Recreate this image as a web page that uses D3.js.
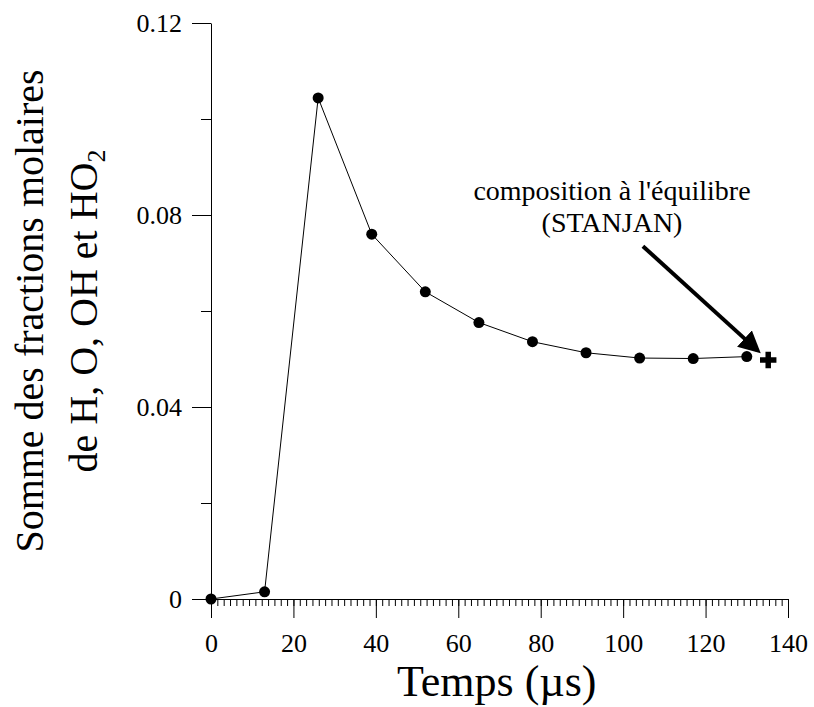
<!DOCTYPE html>
<html>
<head>
<meta charset="utf-8">
<script src="https://cdn.jsdelivr.net/npm/d3@7"></script>
<style>
  body { margin: 0; background: #fff; }
</style>
</head>
<body>
<svg id="chart" width="814" height="707"></svg>
<script>
// time in microseconds and summed molar fractions
var temps = [0, 13, 26, 39, 52, 65, 78, 91, 104, 117, 130]
var fractions = [0, 0.0015, 0.1044, 0.0760, 0.0640, 0.0576, 0.0536, 0.0513, 0.0502, 0.0501, 0.0505]
// equilibrium point (STANJAN)
var equilibre = [135.2, 0.0498]
var xTicks = [0, 20, 40, 60, 80, 100, 120, 140]
var yTicks = [0, 0.04, 0.08, 0.12]
var yMinor = [0.02, 0.06, 0.10]
var noteLines = ["composition à l'équilibre", '(STANJAN)']
var noteAt = [97.3, 0.0831, 0.0765]
var arrowFrom = [104.8, 0.0735]
var arrowTo = [132.6, 0.0518]

var serif = "'Liberation Serif', 'Times New Roman', Times, serif"
var svg = d3.select('#chart')
var margin = {top: 23, right: 26, bottom: 108, left: 211}
var width = 814 - margin.left - margin.right
var height = 707 - margin.top - margin.bottom

var x = d3.scaleLinear().domain([0, 140]).range([0, width])
var y = d3.scaleLinear().domain([0, 0.12]).range([height, 0])

var g = svg.append('g')
  .attr('transform', 'translate(' + margin.left + ',' + margin.top + ')')

// minor x ticks: 13 subdivisions per major step
var xMinor = d3.range(0, 7 * 13 + 1).map((i) => i * 20 / 13)
g.append('g')
  .attr('transform', 'translate(0,' + height + ')')
  .call(d3.axisBottom(x).tickValues(xMinor).tickSize(7).tickFormat(''))
  .call((a) => a.select('.domain').remove())

g.append('g')
  .attr('transform', 'translate(0,' + height + ')')
  .call(d3.axisBottom(x).tickValues(xTicks).tickSize(19).tickSizeOuter(0).tickPadding(16).tickFormat(d3.format('d')))

g.append('g')
  .call(d3.axisLeft(y).tickValues(yMinor).tickSize(10).tickFormat(''))
  .call((a) => a.select('.domain').remove())

g.append('g')
  .call(d3.axisLeft(y).tickValues(yTicks).tickSize(19).tickSizeOuter(0).tickPadding(10)
    .tickFormat((d) => d === 0 ? '0' : d3.format('.2f')(d)))

svg.selectAll('.tick text').attr('font-family', serif).attr('font-size', 26)
svg.selectAll('.domain, .tick line').attr('stroke', '#000').attr('stroke-width', 1)

// data line and dots
var pts = temps.map((t, i) => ({x: t, y: fractions[i]}))
g.append('path').datum(pts)
  .attr('fill', 'none')
  .attr('stroke', '#000')
  .attr('stroke-width', 1)
  .attr('d', d3.line().x((d) => x(d.x)).y((d) => y(d.y)))

g.selectAll('circle').data(pts).enter().append('circle')
  .attr('cx', (d) => x(d.x))
  .attr('cy', (d) => y(d.y))
  .attr('r', 5.5)
  .attr('fill', '#000')

// equilibrium cross
g.append('path')
  .attr('transform', 'translate(' + x(equilibre[0]) + ',' + y(equilibre[1]) + ')')
  .attr('d', d3.symbol(d3.symbolCross, 150))
  .attr('fill', '#000')

// arrow
svg.append('defs').append('marker')
  .attr('id', 'head')
  .attr('viewBox', '0 0 10 10')
  .attr('refX', 8).attr('refY', 5)
  .attr('markerWidth', 5.5).attr('markerHeight', 5.5)
  .attr('markerUnits', 'strokeWidth')
  .attr('orient', 'auto')
  .append('path').attr('d', 'M0,0L10,5L0,10z').attr('fill', '#000')

g.append('line')
  .attr('x1', x(arrowFrom[0])).attr('y1', y(arrowFrom[1]))
  .attr('x2', x(arrowTo[0])).attr('y2', y(arrowTo[1]))
  .attr('stroke', '#000')
  .attr('stroke-width', 4)
  .attr('marker-end', 'url(#head)')

g.selectAll('.note').data(noteLines).enter().append('text')
  .attr('class', 'note')
  .attr('x', x(noteAt[0]))
  .attr('y', (d, i) => y(noteAt[1 + i]))
  .attr('text-anchor', 'middle')
  .attr('font-family', serif)
  .attr('font-size', 28)
  .text((d) => d)

// axis titles
svg.append('text')
  .attr('x', 397)
  .attr('y', 696)
  .attr('font-family', serif)
  .attr('font-size', 44)
  .text('Temps (µs)')

var yt = svg.append('text')
  .attr('transform', 'translate(0,' + (margin.top + height / 2) + ') rotate(-90)')
  .attr('text-anchor', 'middle')
  .attr('font-family', serif)
  .attr('font-size', 40)
yt.append('tspan').attr('x', 0).attr('y', 43).text('Somme des fractions molaires')
var l2 = yt.append('tspan').attr('x', 0).attr('y', 97)
l2.append('tspan').text('de H, O, OH et HO')
l2.append('tspan').attr('font-size', 26).attr('dy', 8).text('2')
</script>
</body>
</html>
